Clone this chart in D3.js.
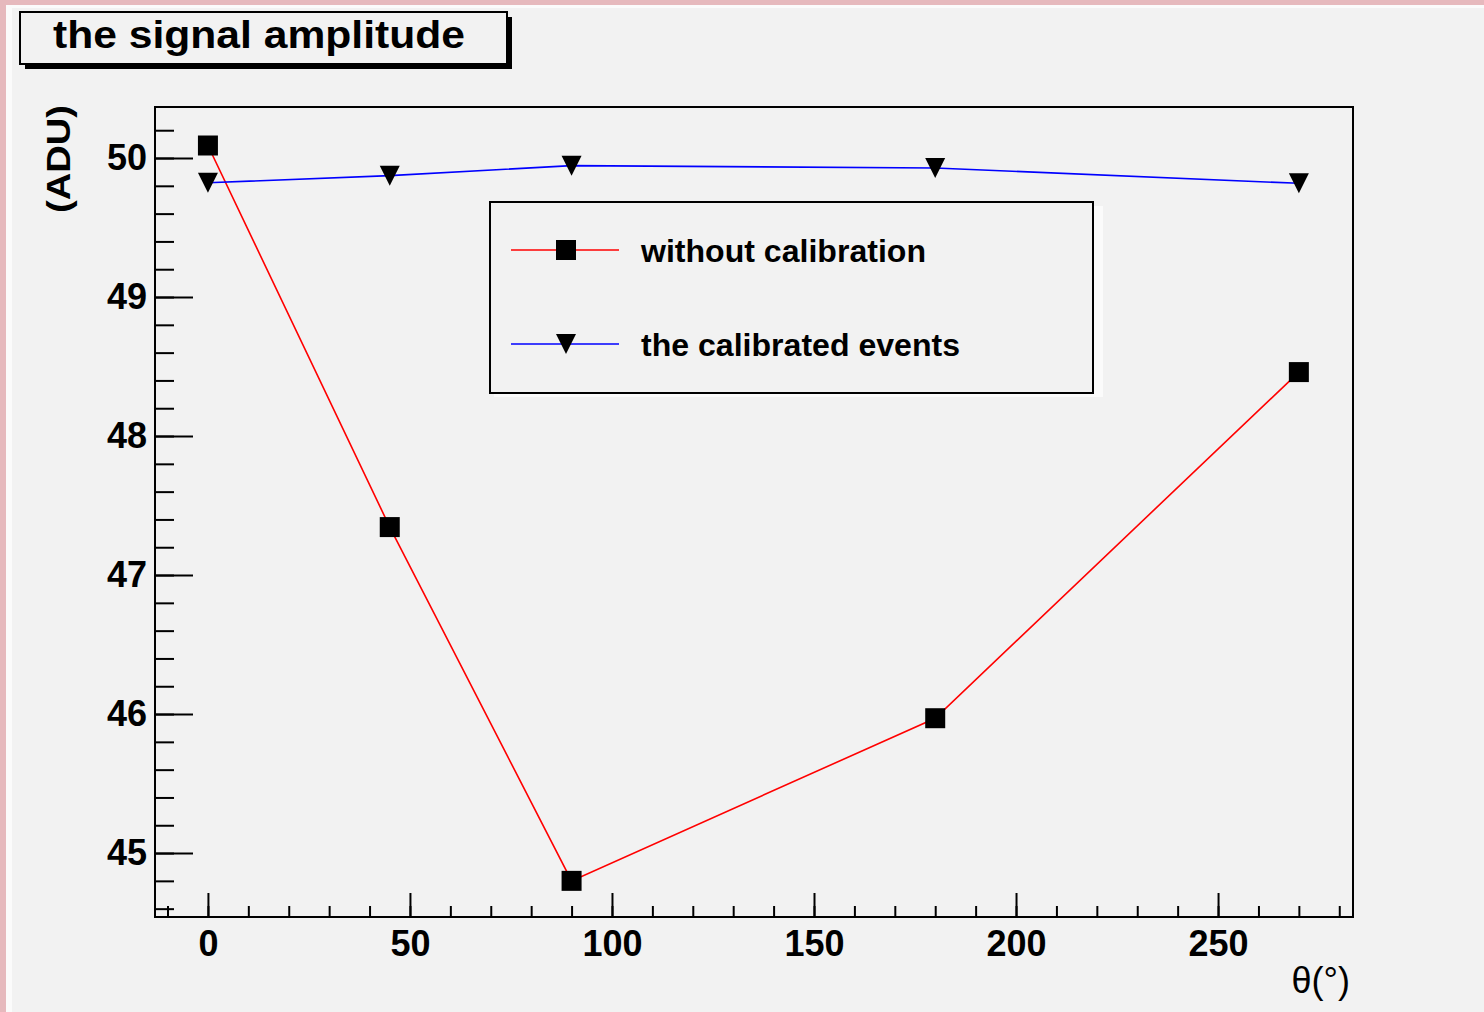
<!DOCTYPE html>
<html>
<head>
<meta charset="utf-8">
<script src="https://cdn.jsdelivr.net/npm/d3@7"></script>
<style>
  body { margin: 0; padding: 0; background: #f2f2f2; }
  svg { display: block; }
</style>
</head>
<body>
<svg width="1484" height="1012"></svg>
<script>
// the data
var angles = [0, 45, 90, 180, 270];
var uncalibrated = [50.09, 47.345, 44.80, 45.97, 48.46];
var calibrated = [49.822, 49.873, 49.945, 49.928, 49.818];

var xMajor = [0, 50, 100, 150, 200, 250];
var yMajor = [45, 46, 47, 48, 49, 50];
var xMinor = d3.range(-10, 290, 10);
var yMinor = d3.range(44.6, 50.3, 0.2);

var seriesNames = ["without calibration", "the calibrated events"];

var font = "'Liberation Sans', Arial, Helvetica, sans-serif";

var svg = d3.select("svg");

// canvas background with the pinkish frame on the left and top
svg.append("rect").attr("width", 1484).attr("height", 1012).attr("fill", "#e6b9bd");
svg.append("rect").attr("x", 6).attr("y", 5).attr("width", 1478).attr("height", 1007).attr("fill", "#fbfbfb");
svg.append("rect").attr("x", 12).attr("y", 8).attr("width", 1472).attr("height", 1004).attr("fill", "#f2f2f2");

// plot frame (names chosen so they don't clash with window.top etc.)
var plotLeft = 155, plotRight = 1353, plotTop = 107, plotBottom = 917;

var x = d3.scaleLinear().domain([-13.1, 283.4]).range([plotLeft, plotRight]);
var y = d3.scaleLinear().domain([44.54, 50.367]).range([plotBottom, plotTop]);

// title box with its shadow
svg.append("rect").attr("x", 25).attr("y", 17).attr("width", 487).attr("height", 52).attr("fill", "#000");
svg.append("rect").attr("x", 20).attr("y", 12).attr("width", 487).attr("height", 52)
    .attr("fill", "#f2f2f2").attr("stroke", "#000").attr("stroke-width", 2);
svg.append("text")
    .attr("x", 259).attr("y", 48)
    .attr("text-anchor", "middle")
    .attr("textLength", 412).attr("lengthAdjust", "spacingAndGlyphs")
    .style("font-family", font).style("font-weight", "bold").style("font-size", "38px")
    .text("the signal amplitude");

// axes: major and minor ticks point inwards
function styleAxis(g) {
    g.select(".domain").remove();
    g.selectAll("line").attr("stroke", "#000").attr("stroke-width", 2);
    g.selectAll("text")
        .style("font-family", font).style("font-weight", "bold").style("font-size", "36px")
        .attr("fill", "#000");
}

svg.append("g").attr("transform", "translate(0," + plotBottom + ")")
    .call(d3.axisBottom(x).tickValues(xMinor).tickSizeInner(-11).tickSizeOuter(0).tickFormat(""))
    .call(styleAxis);
svg.append("g").attr("transform", "translate(0," + plotBottom + ")")
    .call(d3.axisBottom(x).tickValues(xMajor).tickSizeInner(-24).tickSizeOuter(0).tickPadding(13)
        .tickFormat(d3.format("d")))
    .call(styleAxis);

svg.append("g").attr("transform", "translate(" + plotLeft + ",0)")
    .call(d3.axisLeft(y).tickValues(yMinor).tickSizeInner(-19).tickSizeOuter(0).tickFormat(""))
    .call(styleAxis);
svg.append("g").attr("transform", "translate(" + plotLeft + ",0)")
    .call(d3.axisLeft(y).tickValues(yMajor).tickSizeInner(-38).tickSizeOuter(0).tickPadding(8)
        .tickFormat(d3.format("d")))
    .call(styleAxis);

svg.append("rect")
    .attr("x", plotLeft).attr("y", plotTop)
    .attr("width", plotRight - plotLeft).attr("height", plotBottom - plotTop)
    .attr("fill", "none").attr("stroke", "#000").attr("stroke-width", 2);

// axis titles
svg.append("text")
    .attr("transform", "translate(70,159) rotate(-90)")
    .attr("text-anchor", "middle")
    .attr("textLength", 108).attr("lengthAdjust", "spacingAndGlyphs")
    .style("font-family", font).style("font-weight", "bold").style("font-size", "33px")
    .text("(ADU)");
svg.append("text")
    .attr("x", 1350).attr("y", 993)
    .attr("text-anchor", "end")
    .style("font-family", font).style("font-size", "36px")
    .text("θ(°)");

// lines
var line = d3.line().x(function(d) { return x(d[0]); }).y(function(d) { return y(d[1]); });

var redPts = angles.map(function(a, i) { return [a, uncalibrated[i]]; });
var bluePts = angles.map(function(a, i) { return [a, calibrated[i]]; });

svg.append("path").datum(redPts).attr("d", line)
    .attr("fill", "none").attr("stroke", "#ff0000").attr("stroke-width", 1.6);
svg.append("path").datum(bluePts).attr("d", line)
    .attr("fill", "none").attr("stroke", "#0000ff").attr("stroke-width", 1.6);

// markers
var square = d3.symbol().type(d3.symbolSquare).size(400);
var triDown = "M-10,-10L10,-10L0,10Z";

svg.selectAll(".sq").data(redPts).enter().append("path")
    .attr("class", "sq")
    .attr("d", square)
    .attr("transform", function(d) { return "translate(" + x(d[0]) + "," + y(d[1]) + ")"; })
    .attr("fill", "#000");

svg.selectAll(".tri").data(bluePts).enter().append("path")
    .attr("class", "tri")
    .attr("d", triDown)
    .attr("transform", function(d) { return "translate(" + x(d[0]) + "," + y(d[1]) + ")"; })
    .attr("fill", "#000");

// legend
svg.append("rect").attr("x", 494).attr("y", 206).attr("width", 609).attr("height", 191).attr("fill", "#fbfbfb");
svg.append("rect").attr("x", 490).attr("y", 202).attr("width", 603).attr("height", 191)
    .attr("fill", "#f2f2f2").attr("stroke", "#000").attr("stroke-width", 2);

var legendRows = [
    { name: seriesNames[0], color: "#ff0000", mark: "sq", y: 250, width: 285 },
    { name: seriesNames[1], color: "#0000ff", mark: "tri", y: 344, width: 319 }
];

var rows = svg.selectAll(".leg").data(legendRows).enter().append("g").attr("class", "leg");
rows.append("line")
    .attr("x1", 511).attr("x2", 619)
    .attr("y1", function(d) { return d.y; }).attr("y2", function(d) { return d.y; })
    .attr("stroke", function(d) { return d.color; }).attr("stroke-width", 1.6);
rows.append("path")
    .attr("d", function(d) { return d.mark == "sq" ? square() : triDown; })
    .attr("transform", function(d) { return "translate(566," + d.y + ")"; })
    .attr("fill", "#000");
rows.append("text")
    .attr("x", 641).attr("y", function(d) { return d.y + 12; })
    .attr("textLength", function(d) { return d.width; }).attr("lengthAdjust", "spacingAndGlyphs")
    .style("font-family", font).style("font-weight", "bold").style("font-size", "31px")
    .text(function(d) { return d.name; });
</script>
</body>
</html>
